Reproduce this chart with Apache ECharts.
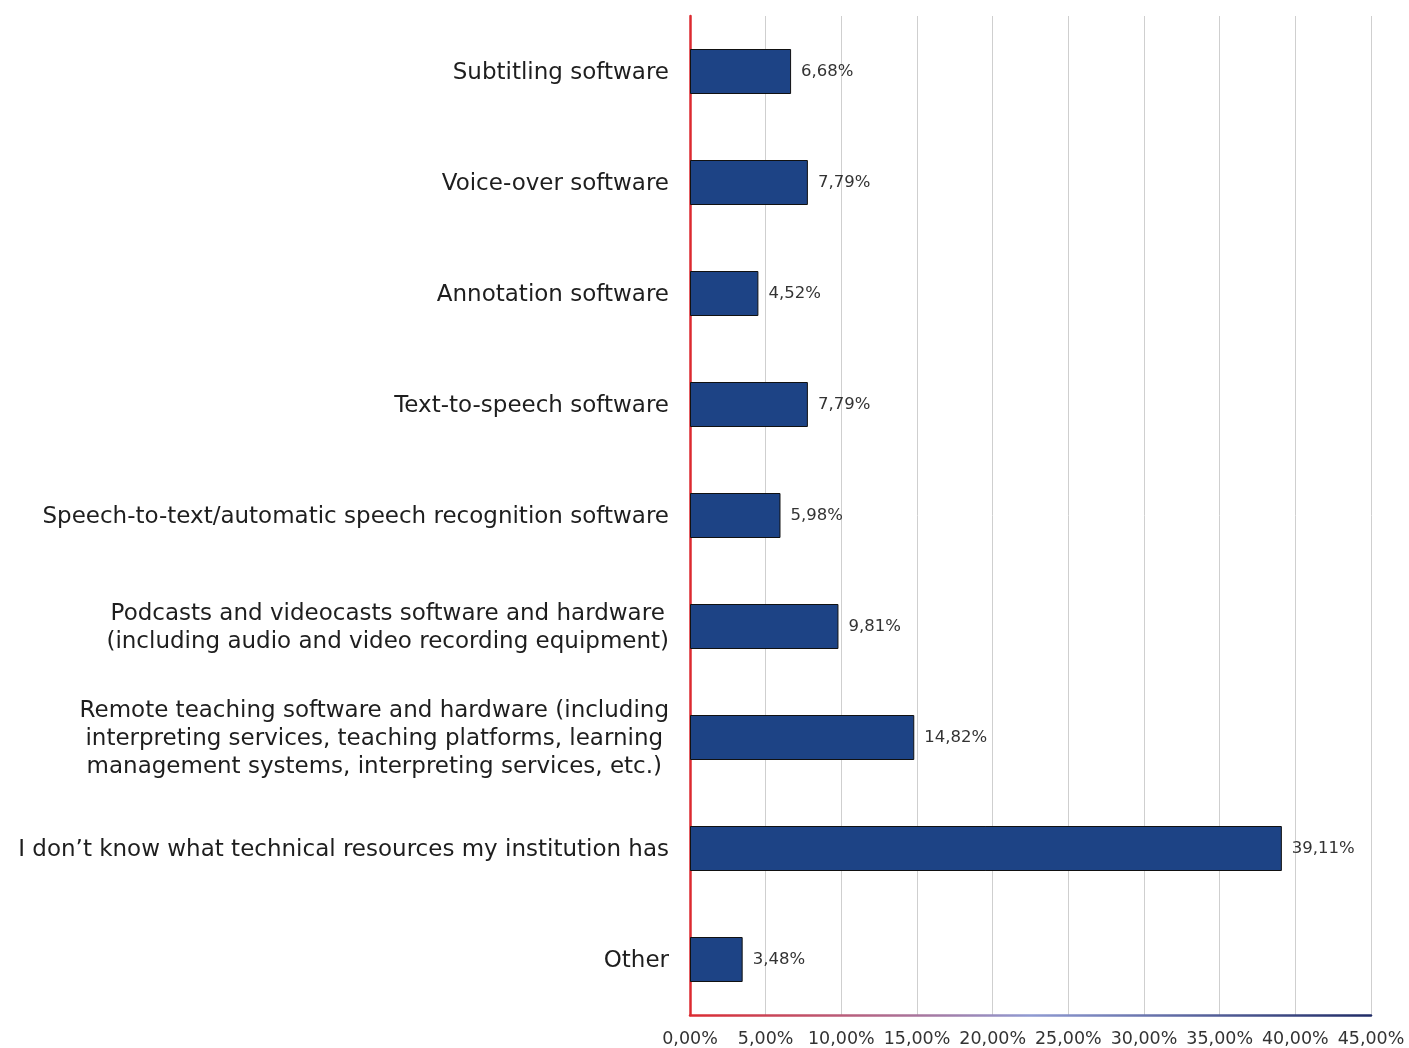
<!DOCTYPE html>
<html>
<head>
<meta charset="utf-8">
<script src="https://cdn.jsdelivr.net/npm/echarts@6/dist/echarts.min.js"></script>
<style>
  html, body { margin: 0; padding: 0; background: #ffffff; }
  #chart { width: 1409px; height: 1048px; }
</style>
</head>
<body>
<div id="chart"></div>
<script>
// Technical resources available at the institution (share of respondents, %)
const categories = [
  'Subtitling software',
  'Voice-over software',
  'Annotation software',
  'Text-to-speech software',
  'Speech-to-text/automatic speech recognition software',
  'Podcasts and videocasts software and hardware\n(including audio and video recording equipment)',
  'Remote teaching software and hardware (including\ninterpreting services, teaching platforms, learning\nmanagement systems, interpreting services, etc.)',
  'I don\u2019t know what technical resources my institution has',
  'Other'
];
const shares = [6.68, 7.79, 4.52, 7.79, 5.98, 9.81, 14.82, 39.11, 3.48];
const xTicks = [0, 5, 10, 15, 20, 25, 30, 35, 40, 45];

const FONT = '"DejaVu Sans", sans-serif';
const fmt = (v) => v.toFixed(2).replace('.', ',') + '%';

const chart = echarts.init(document.getElementById('chart'));
chart.setOption({
  backgroundColor: '#ffffff',
  animation: false,
  grid: { left: 690, right: 38, top: 16, bottom: 31, containLabel: false },
  xAxis: {
    type: 'value',
    min: xTicks[0],
    max: xTicks[xTicks.length - 1],
    interval: 5,
    axisLine: {
      show: true,
      lineStyle: {
        width: 2.5,
        color: {
          type: 'linear', x: 0, y: 0, x2: 1, y2: 0,
          colorStops: [
            { offset: 0, color: '#dc2a30' },
            { offset: 0.5, color: '#8f9ad2' },
            { offset: 1, color: '#1f2b66' }
          ]
        }
      }
    },
    axisTick: { show: false },
    splitLine: { show: true, lineStyle: { color: '#cfcfcf', width: 1 } },
    axisLabel: {
      margin: 15,
      fontFamily: FONT,
      fontSize: 17.5,
      color: '#333333',
      formatter: (v) => fmt(v)
    }
  },
  yAxis: {
    type: 'category',
    inverse: true,
    data: categories,
    axisLine: { show: true, lineStyle: { color: '#dc2a30', width: 2.5 } },
    axisTick: { show: false },
    splitLine: { show: false },
    axisLabel: {
      margin: 21,
      align: 'right',
      lineHeight: 28,
      padding: [4, 0, 0, 0],
      formatter: (v) => v.split('\n').map((l) => '{c|' + l + '}').join('\n'),
      rich: {
        c: { align: 'center', fontFamily: FONT, fontSize: 23, color: '#1e1e1e', lineHeight: 28 }
      }
    }
  },
  series: [{
    type: 'bar',
    data: shares,
    barWidth: 45,
    itemStyle: { color: '#1d4385', borderColor: '#111111', borderWidth: 1 },
    label: {
      show: true,
      position: 'right',
      distance: 10,
      fontFamily: FONT,
      fontSize: 16.5,
      color: '#333333',
      padding: [2, 0, 0, 0],
      formatter: (p) => fmt(p.value)
    }
  }]
});
</script>
</body>
</html>
